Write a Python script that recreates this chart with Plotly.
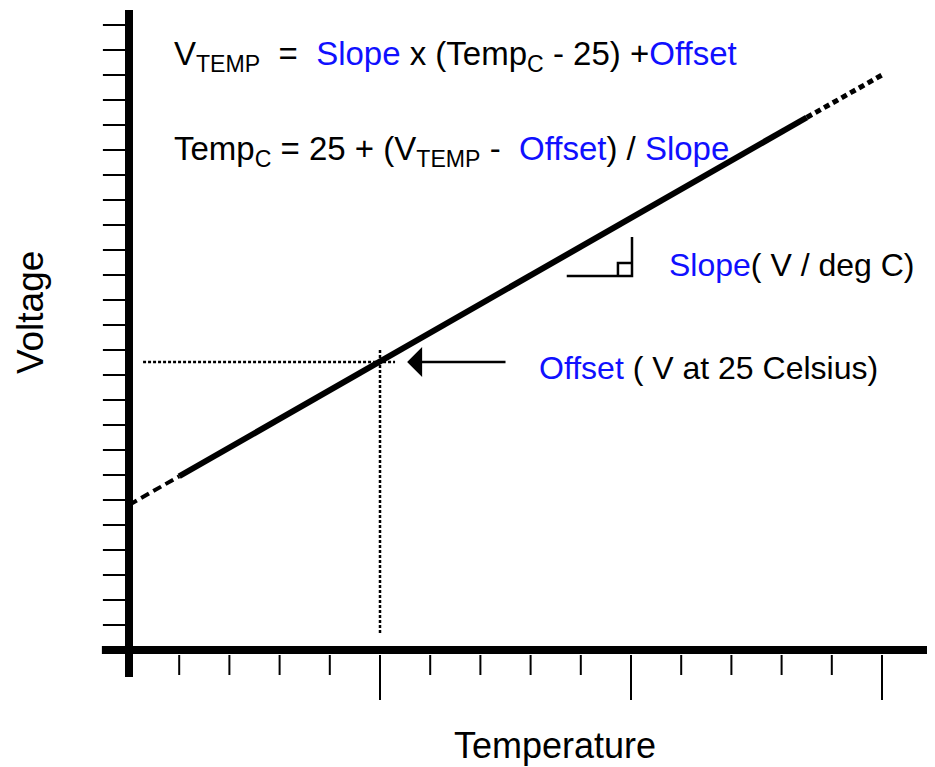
import plotly.graph_objects as go

# Abstract units: x = temperature tick index, y = voltage tick index
x_ticks = list(range(1, 16))          # 15 ticks along temperature axis
x_long_ticks = [5, 10, 15]
y_ticks = list(range(1, 26))          # 25 ticks along voltage axis

# Transfer line segments (temperature, voltage)
dash_x = [0.0, 1.0]
dash_y = [5.8, 6.95]
solid_x = [1.0, 13.5]
solid_y = [6.95, 21.3]
dot_x = [13.5, 15.0]
dot_y = [21.3, 23.0]

# Offset point (25 C)
offset_x = 5.0
offset_y = 11.52

BLUE = "#1010FF"
FONT = "Liberation Sans, Arial, sans-serif"

# page body has an 8px margin; figure sized to fit the window
W, H = 927, 759
X0, Y0 = 121, 642      # figure pixel of origin
SX, SY = 50.2, 25.0    # pixels per unit

fig = go.Figure()

# Axes drawn as lines
fig.add_trace(go.Scatter(x=[0, 0], y=[25.6, -1.08], mode="lines",
                         line=dict(color="black", width=8), hoverinfo="skip"))
fig.add_trace(go.Scatter(x=[-0.54, 16.5], y=[0, 0], mode="lines",
                         line=dict(color="black", width=8), hoverinfo="skip"))

# y ticks
ytx, yty = [], []
for t in y_ticks:
    ytx += [-0.52, -0.06, None]
    yty += [t, t, None]
fig.add_trace(go.Scatter(x=ytx, y=yty, mode="lines",
                         line=dict(color="black", width=2), hoverinfo="skip"))
# x ticks
xtx, xty = [], []
for t in x_ticks:
    xtx += [t, t, None]
    xty += [-0.2, -2.0 if t in x_long_ticks else -1.0, None]
fig.add_trace(go.Scatter(x=xtx, y=xty, mode="lines",
                         line=dict(color="black", width=2), hoverinfo="skip"))

# Transfer line
fig.add_trace(go.Scatter(x=dash_x, y=dash_y, mode="lines",
                         line=dict(color="black", width=4, dash="9px,5px"), hoverinfo="skip"))
fig.add_trace(go.Scatter(x=solid_x, y=solid_y, mode="lines",
                         line=dict(color="black", width=6), hoverinfo="skip"))
fig.add_trace(go.Scatter(x=dot_x, y=dot_y, mode="lines",
                         line=dict(color="black", width=5, dash="6px,4px"), hoverinfo="skip"))

# Dotted guide lines to offset point
fig.add_trace(go.Scatter(x=[0.28, 5.3], y=[offset_y, offset_y], mode="lines",
                         line=dict(color="black", width=2.5, dash="3px,2px"), hoverinfo="skip"))
fig.add_trace(go.Scatter(x=[offset_x, offset_x], y=[12.0, 0.6], mode="lines",
                         line=dict(color="black", width=2.5, dash="3px,2px"), hoverinfo="skip"))

# Slope triangle
fig.add_trace(go.Scatter(x=[8.72, 10.02, 10.02], y=[14.96, 14.96, 16.52], mode="lines",
                         line=dict(color="black", width=2.5), hoverinfo="skip"))
fig.add_trace(go.Scatter(x=[9.74, 9.74, 10.02], y=[14.96, 15.48, 15.48], mode="lines",
                         line=dict(color="black", width=2.5), hoverinfo="skip"))

ann = []
def txt(x, y, s, size=33, xanchor="left", angle=0):
    ann.append(dict(x=x, y=y, xref="x", yref="y", text=s, showarrow=False,
                    xanchor=xanchor, yanchor="middle", textangle=angle,
                    font=dict(family=FONT, size=size, color="black")))

b = lambda s: f"<span style='color:{BLUE}'>{s}</span>"
txt(0.86, 23.75, "V<sub>TEMP</sub>  =  " + b("Slope") + " x (Temp<sub>C</sub> - 25) +" + b("Offset"), size=33)
txt(0.86, 19.95, "Temp<sub>C</sub> = 25 + (V<sub>TEMP</sub> -  " + b("Offset") + ") / " + b("Slope"), size=33)
txt(10.72, 15.4, b("Slope") + "( V / deg C)", size=32)
txt(8.13, 11.28, b("Offset") + " ( V at 25 Celsius)", size=32)
txt(-1.97, 13.48, "Voltage", size=37, xanchor="center", angle=-90)
txt(8.49, -3.82, "Temperature", size=36, xanchor="center")

ann.append(dict(x=5.54, y=offset_y, ax=7.53, ay=offset_y, xref="x", yref="y",
                axref="x", ayref="y", showarrow=True, arrowhead=1, arrowsize=2,
                arrowwidth=2.5, arrowcolor="black", text=""))

fig.update_layout(
    width=W, height=H,
    margin=dict(l=0, r=0, t=0, b=0),
    paper_bgcolor="white", plot_bgcolor="white",
    showlegend=False, annotations=ann,
    xaxis=dict(range=[-X0/SX, (W-X0)/SX], visible=False, fixedrange=True),
    yaxis=dict(range=[(Y0-H)/SY, Y0/SY], visible=False, fixedrange=True),
)
fig.write_html("out.html", config={"displayModeBar": False})
